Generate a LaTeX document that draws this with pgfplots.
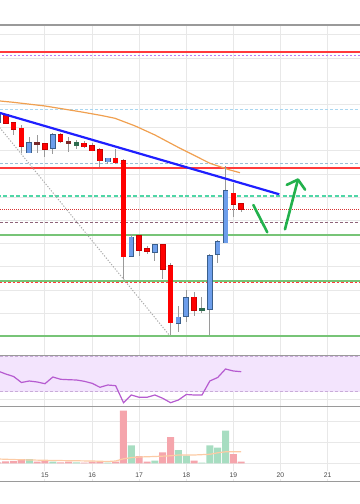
\documentclass[border=0pt]{standalone}
\usepackage{fontspec}
\setmainfont{Liberation Sans}
\usepackage{pgfplots}
\usepackage{pgfplotstable}
\pgfplotsset{compat=1.18}
\usetikzlibrary{arrows.meta}

\definecolor{candred}{HTML}{FF0000}
\definecolor{candredE}{HTML}{C80000}
\definecolor{candblue}{HTML}{6D9EEB}
\definecolor{candblueE}{HTML}{3A5F8C}
\definecolor{dojired}{HTML}{7A2A2A}
\definecolor{dojigreen}{HTML}{2E6B4E}
\definecolor{wick}{HTML}{9A9A9A}
\definecolor{gridc}{HTML}{E8E8E8}
\definecolor{border}{HTML}{9A9A9A}
\definecolor{maorange}{HTML}{F0A050}
\definecolor{trendblue}{HTML}{1F1FFF}
\definecolor{arrowgreen}{HTML}{22B14C}
\definecolor{resred}{HTML}{FF3B3B}
\definecolor{lvlpurple}{HTML}{B77CF2}
\definecolor{lvlblue}{HTML}{A9D6F0}
\definecolor{lvlteal}{HTML}{4FD6A6}
\definecolor{lvlmauve}{HTML}{8E6479}
\definecolor{supgreen}{HTML}{77C477}
\definecolor{rsiline}{HTML}{B65BD0}
\definecolor{rsiband}{HTML}{F3E4FD}
\definecolor{rsidash}{HTML}{C9ACD9}
\definecolor{volred}{HTML}{F5A5AC}
\definecolor{volgreen}{HTML}{A7DDC1}
\definecolor{volma}{HTML}{FCCBA5}
\definecolor{labelgray}{HTML}{4A4A4A}
\definecolor{diaggray}{HTML}{ABABAB}

% candles: i = 4-hour candle index (day 14 00:00 = 0), o h l c
\pgfplotstableread{
i o h l c
0 382 391 380 389
4 351.3 367.3 350.7 361.3
7 355.7 371.3 350 369
14 342.3 346 340 345.7
17 248 269.7 247.3 266.7
20 251.7 259 243.3 259
23 180.7 198 172.3 186.7
24 188 214 182.3 206.3
27 194.7 250 169 248
28 250 264.3 241.3 262.3
29 261.3 338 261 313
}\upcandles
\pgfplotstableread{
i o h l c
1 389 390 380 381
2 381.3 382 369 374.7
3 375.7 379 350.7 358
6 360 360 347.3 355
8 369 371.3 361 363
11 360.7 363 356 357.3
12 358.3 361 353 353.3
13 354 356 337.3 343.3
15 345.7 355 340 341.3
16 343 344.7 224.7 247.3
18 268 269.3 248 254
19 255.3 258 250 252.7
21 259 259 225 235
22 238.3 240.7 169 181.3
25 206.7 211.7 188 194
30 310.7 320.7 286.7 300
31 300 301 292.3 295
}\downcandles
\pgfplotstableread{
i o h l c
5 361.7 369 350.7 360
9 361.7 366.7 351.7 360.7
}\dojired
\pgfplotstableread{
i o h l c
10 359 364 354.7 361.3
26 193.3 207.3 190.7 195
}\dojigreen

\pgfplotstableread{
i v
0 1
1 2
2 2.3
3 4.3
5 1.6
6 3.3
8 1
9 1.6
11 0.8
12 1.6
13 1.6
15 1.6
16 52.6
18 7.3
19 1.6
21 11
22 26.3
25 2.6
30 9.3
31 1.6
}\volred
\pgfplotstableread{
i v
4 4.3
7 1.6
10 1
14 0.8
17 18
20 2.6
23 13.3
24 7.6
26 0.8
27 18
28 15.6
29 32.6
}\volgreen

\pgfplotstableread{
i r
0 133
1 130
2 127.5
3 121.5
4 123
5 122
6 120.3
7 127
8 124.7
9 124.3
10 124
11 122.7
12 120.7
13 116.7
14 119
15 118.3
16 101.3
17 109
18 106.7
19 106.7
20 109
21 105.7
22 101.3
23 104
24 109.5
25 109
26 109
27 123
28 126.5
29 135
30 133
31 132.3
}\rsi

\pgfplotsset{
  wicks/.style={draw=none, mark=none, forget plot,
    error bars/.cd, y dir=both, y explicit, error mark=none,
    error bar style={draw=wick, line width=1bp}},
  body/.style 2 args={draw=none, mark=none, forget plot,
    error bars/.cd, y dir=both, y explicit, error mark=none,
    error bar style={draw=#1, line width=#2}},
  panel/.style={scale only axis, width=360bp,
    xmin=0.268, xmax=46.13,
    separate axis lines,
    x axis line style={draw=border, line width=1.4bp},
    y axis line style={draw=none},
    xtick={0,6,...,42},
    major tick length=0pt,
    grid=major, grid style={draw=gridc, line width=1bp},
    yticklabels={}},
}

\newcommand{\candles}[4]{%
  \addplot[wicks] table[x=i, y expr={(\thisrow{h}+\thisrow{l})/2}, y error expr={(\thisrow{h}-\thisrow{l})/2}] {#1};
  \addplot[body={#2}{5.6bp}] table[x=i, y expr={(\thisrow{o}+\thisrow{c})/2}, y error expr={max(abs(\thisrow{o}-\thisrow{c})/2,0.8)+0.6}] {#1};
  \addplot[body={#3}{#4}] table[x=i, y expr={(\thisrow{o}+\thisrow{c})/2}, y error expr={max(abs(\thisrow{o}-\thisrow{c})/2,0.8)}] {#1};
}

\begin{document}
\begin{tikzpicture}
\useasboundingbox (0,0) rectangle (360bp,504bp);

% ---------------- main price panel ----------------
\begin{axis}[panel, at={(0bp,148.4bp)}, anchor=south west,
  height=330.6bp, ymin=148.4, ymax=479,
  xticklabels={},
  ytick={167.4,190.6,213.8,237,260.2,283.4,306.6,329.8,353,376.2,399.4,422.6,445.8,469}]
  % levels
  \addplot[resred, line width=1.8bp] coordinates {(-1,451.7) (48,451.7)};
  \addplot[lvlpurple, line width=1bp, dash pattern=on 2bp off 2bp] coordinates {(-1,448) (48,448)};
  \addplot[lvlblue, line width=1.5bp, dash pattern=on 3bp off 2bp] coordinates {(-1,394.7) (48,394.7)};
  \addplot[lvlblue!90!black, line width=1.2bp, dash pattern=on 3bp off 2bp] coordinates {(-1,340.7) (48,340.7)};
  \addplot[resred, line width=1.8bp] coordinates {(-1,336.3) (48,336.3)};
  \addplot[lvlteal, line width=1.2bp, dash pattern=on 4bp off 2.5bp] coordinates {(-1,308) (48,308)};
  \addplot[resred!85!black, line width=0.9bp, dash pattern=on 1bp off 1bp] coordinates {(-1,294.7) (48,294.7)};
  \addplot[lvlmauve, line width=1bp, dash pattern=on 3bp off 2bp] coordinates {(-1,281.3) (48,281.3)};
  \addplot[supgreen, line width=1.8bp] coordinates {(-1,268.7) (48,268.7)};
  \addplot[supgreen, line width=1.8bp] coordinates {(-1,223) (48,223)};
  \addplot[resred, line width=1bp, dash pattern=on 2.5bp off 2bp] coordinates {(-1,221.4) (48,221.4)};
  \addplot[supgreen, line width=1.8bp] coordinates {(-1,168.3) (48,168.3)};
  % moving average
  \addplot[maorange, line width=1.2bp] coordinates {(-0.5,403.3) (0.27,403) (1.96,401.7) (6.0,398) (10.46,392.3) (13.2,388.5) (14.92,385.7) (17.5,378) (20.01,369) (23.2,355.7) (27.02,340.7) (29.57,334) (30.84,331.3)};
  % diagonal dotted
  \addplot[diaggray, line width=1bp, dash pattern=on 1.2bp off 1.6bp] coordinates {(0,378.6) (21.92,168)};
  % candles
  \candles{\upcandles}{candblueE}{candblue}{4bp}
  \candles{\downcandles}{candredE}{candred}{4.4bp}
  \candles{\dojired}{dojired}{dojired}{4.4bp}
  \candles{\dojigreen}{dojigreen}{dojigreen}{4.4bp}
  % trend line
  \addplot[trendblue, line width=2.2bp] coordinates {(-0.5,392.8) (35.85,309.7)};
  % green annotation
  \addplot[arrowgreen, line width=2.6bp, line cap=round] coordinates {(32.54,299) (34.32,271.7)};
  \addplot[arrowgreen, line width=2.6bp, line cap=round, -{Straight Barb[length=8bp,width=19bp,round]}] coordinates {(36.57,274.7) (38.27,325.7)};
\end{axis}

% ---------------- RSI panel ----------------
\begin{axis}[panel, at={(0bp,97.3bp)}, anchor=south west,
  height=51.1bp, ymin=97.3, ymax=148.4,
  xticklabels={}, ytick={104,121.3,139}]
  \addplot[fill=rsiband, draw=none] coordinates {(-1,112.3) (48,112.3) (48,147.5) (-1,147.5)} --cycle;
  \addplot[rsidash, line width=0.9bp, dash pattern=on 3bp off 2bp] coordinates {(-1,147.3) (48,147.3)};
  \addplot[rsidash, line width=0.9bp, dash pattern=on 3bp off 2bp] coordinates {(-1,112.3) (48,112.3)};
  \addplot[rsiline, line width=1.2bp] table[x=i, y=r] {\rsi};
\end{axis}

% ---------------- volume panel ----------------
\begin{axis}[panel, at={(0bp,22.3bp)}, anchor=south west,
  height=75bp, ymin=-18.4, ymax=56.6,
  ytick={0,20.6,41.6},
  xticklabels={14,15,16,17,18,19,20,21},
  xticklabel style={anchor=center, yshift=6.7bp, fill=white, inner sep=1.3bp,
    font=\fontsize{6.8}{8}\selectfont, text=labelgray}]
  \addplot[ybar, bar width=7bp, bar shift=0pt, fill=volred, draw=none] table[x=i, y=v] {\volred};
  \addplot[ybar, bar width=7bp, bar shift=0pt, fill=volgreen, draw=none] table[x=i, y=v] {\volgreen};
  \addplot[volma, line width=1.2bp] coordinates {(0,4.3) (3,3.5) (6,3) (9,2.6) (12,2.3) (14,1.8) (15,2.3) (16,4.5) (17,5.7) (18,6.3) (20,6.8) (22,7.5) (23,8.3) (25,8.3) (27,9) (28,10.5) (29,11.5) (31,11.6)};
\end{axis}
\end{tikzpicture}
\end{document}
